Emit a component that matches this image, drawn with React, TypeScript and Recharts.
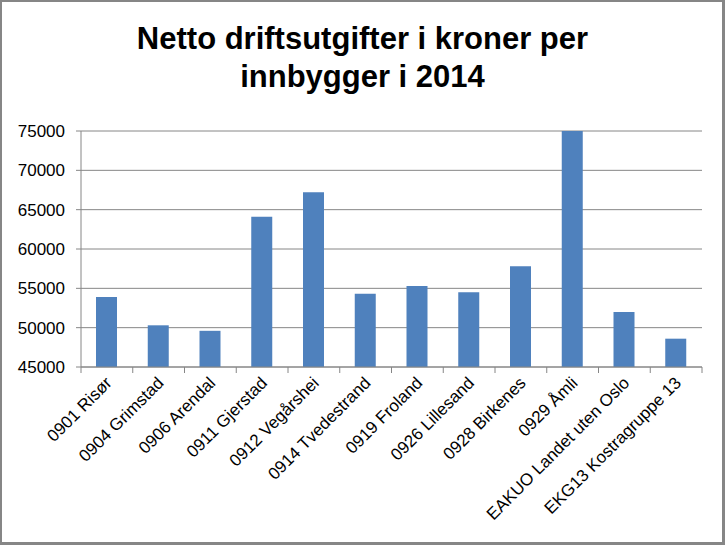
import React from 'react';
import { BarChart, Bar, XAxis, YAxis, CartesianGrid } from 'recharts';

const categories = [
  '0901 Risør',
  '0904 Grimstad',
  '0906 Arendal',
  '0911 Gjerstad',
  '0912 Vegårshei',
  '0914 Tvedestrand',
  '0919 Froland',
  '0926 Lillesand',
  '0928 Birkenes',
  '0929 Åmli',
  'EAKUO Landet uten Oslo',
  'EKG13 Kostragruppe 13',
];
const values = [53900, 50300, 49600, 64100, 67200, 54300, 55300, 54500, 57800, 75100, 52000, 48600];
const yTicks = [45000, 50000, 55000, 60000, 65000, 70000, 75000];
const titleLines = ['Netto driftsutgifter i kroner per', 'innbygger i 2014'];

const data = categories.map((name, i) => ({ name, value: values[i] }));

const W = 725;
const H = 545;
const M = { top: 131, right: 23, left: 0, bottom: 0 };
const Y_W = 81;
const X_H = 178;
const PLOT_W = W - M.left - M.right - Y_W;
const BAND = PLOT_W / categories.length;
const GREY = '#868686';
const FONT = '"Liberation Sans", Arial, sans-serif';

const XTick = (props: any) => {
  const { x, y, payload, index } = props;
  const half = BAND / 2;
  const last = index === categories.length - 1;
  const ax = x + 6;
  const ay = y + 17;
  return (
    <g>
      <line x1={x - half} y1={y} x2={x - half} y2={y + 6} stroke={GREY} strokeWidth={1} />
      {last && <line x1={x + half} y1={y} x2={x + half} y2={y + 6} stroke={GREY} strokeWidth={1} />}
      <text
        x={ax}
        y={ay}
        transform={`rotate(-45 ${ax} ${ay})`}
        textAnchor="end"
        fontFamily={FONT}
        fontSize={17}
        fill="#000"
      >
        {payload.value}
      </text>
    </g>
  );
};

export default function App() {
  return (
    <div style={{ position: 'absolute', left: 0, top: 0, width: W, height: H, background: '#fff' }}>
      <div
        style={{
          position: 'absolute',
          left: 0,
          top: 20,
          width: W,
          textAlign: 'center',
          fontFamily: FONT,
          fontWeight: 'bold',
          fontSize: 31,
          lineHeight: '38px',
          color: '#000',
        }}
      >
        {titleLines[0]}
        <br />
        {titleLines[1]}
      </div>
      <BarChart width={W} height={H} data={data} margin={M}>
        <CartesianGrid vertical={false} stroke={GREY} strokeWidth={1} />
        <XAxis
          dataKey="name"
          interval={0}
          height={X_H}
          tickLine={false}
          tickSize={0}
          tickMargin={0}
          axisLine={{ stroke: GREY, strokeWidth: 1 }}
          tick={<XTick />}
        />
        <YAxis
          width={Y_W}
          domain={[45000, 75000]}
          ticks={yTicks}
          allowDataOverflow
          interval={0}
          tickSize={5}
          tickMargin={11}
          tickLine={{ stroke: GREY }}
          axisLine={{ stroke: GREY, strokeWidth: 1 }}
          tick={{ fontFamily: FONT, fontSize: 17, fill: '#000' }}
        />
        <Bar dataKey="value" fill="#4F81BD" barSize={21} isAnimationActive={false} />
      </BarChart>
      <div
        style={{
          position: 'absolute',
          left: 0,
          top: 0,
          width: W,
          height: H,
          boxSizing: 'border-box',
          borderStyle: 'solid',
          borderColor: GREY,
          borderWidth: '2px 3px 3px 2px',
          pointerEvents: 'none',
        }}
      />
    </div>
  );
}
